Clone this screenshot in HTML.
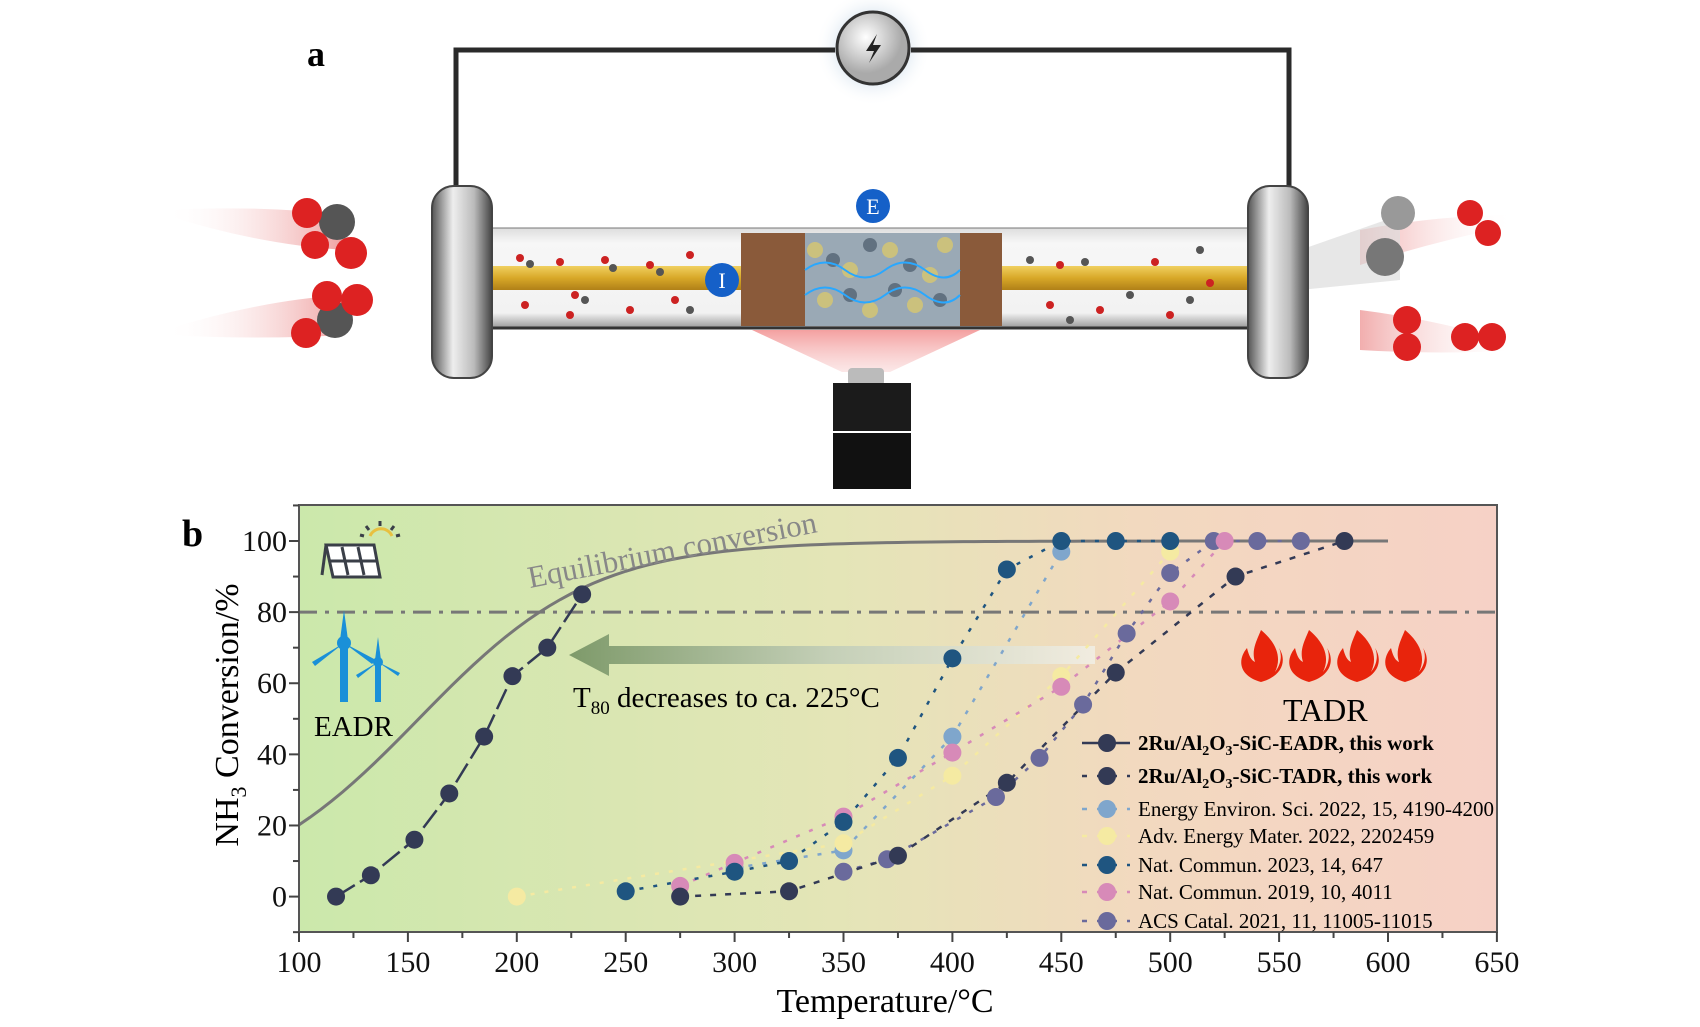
<!DOCTYPE html>
<html><head><meta charset="utf-8">
<style>
html,body{margin:0;padding:0;background:#fff;}
svg{display:block;font-family:"Liberation Serif",serif;}
</style></head>
<body>
<svg id="s" width="1700" height="1027" viewBox="0 0 1700 1027" xmlns="http://www.w3.org/2000/svg">
<defs>
<linearGradient id="bg" x1="0" x2="1" y1="0" y2="0">
<stop offset="0" stop-color="#cbe8ab"/>
<stop offset="0.45" stop-color="#e4e5b7"/>
<stop offset="0.7" stop-color="#f2d9bf"/>
<stop offset="1" stop-color="#f6d1c6"/>
</linearGradient>
<linearGradient id="arr" x1="0" x2="1">
<stop offset="0" stop-color="#7e9a6a"/>
<stop offset="0.5" stop-color="#c5d0b8"/>
<stop offset="1" stop-color="#f1ece0"/>
</linearGradient>
<linearGradient id="fl" x1="0" x2="1">
<stop offset="0" stop-color="#555"/><stop offset="0.35" stop-color="#eee"/><stop offset="0.7" stop-color="#bbb"/><stop offset="1" stop-color="#444"/>
</linearGradient>
<linearGradient id="tube" x1="0" y1="0" x2="0" y2="1">
<stop offset="0" stop-color="#ddd"/><stop offset="0.15" stop-color="#f7f7f7"/><stop offset="0.85" stop-color="#f2f2f2"/><stop offset="1" stop-color="#999"/>
</linearGradient>
<linearGradient id="rod" x1="0" y1="0" x2="0" y2="1">
<stop offset="0" stop-color="#f0d060"/><stop offset="0.5" stop-color="#d8a828"/><stop offset="1" stop-color="#b08018"/>
</linearGradient>
<linearGradient id="cone" x1="0" y1="0" x2="0" y2="1">
<stop offset="0" stop-color="#f4a0a0"/><stop offset="1" stop-color="#f8d0d0" stop-opacity="0.5"/>
</linearGradient>
<linearGradient id="trailL" x1="0" x2="1"><stop offset="0" stop-color="#fff" stop-opacity="0"/><stop offset="1" stop-color="#e87878"/></linearGradient>
<linearGradient id="trailR" x1="1" x2="0"><stop offset="0" stop-color="#fff" stop-opacity="0"/><stop offset="1" stop-color="#e87878"/></linearGradient>
<radialGradient id="glow"><stop offset="0.55" stop-color="#dfe9f2"/><stop offset="1" stop-color="#fff" stop-opacity="0"/></radialGradient>
<radialGradient id="bat" cx="0.4" cy="0.35"><stop offset="0" stop-color="#fff"/><stop offset="1" stop-color="#aaa"/></radialGradient>
</defs>

<!-- ===== Panel a ===== -->
<text x="307" y="66" font-size="36" font-weight="bold">a</text>
<circle cx="873" cy="48" r="58" fill="url(#glow)"/>
<path d="M456 192 V50 H835 M911 50 H1289 V192" fill="none" stroke="#2a2a2a" stroke-width="5"/>
<circle cx="873" cy="48" r="36" fill="url(#bat)" stroke="#333" stroke-width="3"/>
<path d="M877 34 L866 51 H874 L869 63 L881 45 H873 Z" fill="#222"/>
<path d="M165 210 Q260 205 345 215 L345 250 Q260 245 165 215 Z" fill="url(#trailL)" opacity="0.7"/>
<path d="M165 330 Q260 300 345 295 L345 335 Q260 340 165 335 Z" fill="url(#trailL)" opacity="0.7"/>
<path d="M1515 215 Q1440 215 1360 230 L1360 265 Q1440 240 1515 225 Z" fill="url(#trailR)" opacity="0.6"/>
<path d="M1520 345 Q1440 320 1360 310 L1360 350 Q1440 355 1520 350 Z" fill="url(#trailR)" opacity="0.6"/>
<path d="M1300 250 L1400 215 L1400 280 L1300 290 Z" fill="#ddd" opacity="0.7"/>
<g>
<circle cx="337" cy="222" r="18" fill="#555"/><circle cx="307" cy="213" r="15" fill="#d22"/><circle cx="315" cy="245" r="14" fill="#d22"/><circle cx="351" cy="253" r="16" fill="#d22"/>
<circle cx="335" cy="320" r="18" fill="#555"/><circle cx="327" cy="296" r="15" fill="#d22"/><circle cx="357" cy="300" r="16" fill="#d22"/><circle cx="306" cy="333" r="15" fill="#d22"/>
<circle cx="1398" cy="213" r="17" fill="#999"/><circle cx="1385" cy="257" r="19" fill="#777"/>
<circle cx="1470" cy="213" r="13" fill="#d22"/><circle cx="1488" cy="233" r="13" fill="#d22"/>
<circle cx="1407" cy="320" r="14" fill="#d22"/><circle cx="1407" cy="347" r="14" fill="#d22"/><circle cx="1465" cy="337" r="14" fill="#d22"/><circle cx="1492" cy="337" r="14" fill="#d22"/>
</g>
<path d="M752 330 L980 330 L890 372 L842 372 Z" fill="url(#cone)"/>
<rect x="848" y="368" width="36" height="18" rx="4" fill="#bbb"/>
<rect x="833" y="383" width="78" height="48" fill="#1b1b1b"/>
<rect x="833" y="433" width="78" height="56" fill="#111"/>
<rect x="490" y="228" width="760" height="100" fill="url(#tube)" stroke="#777" stroke-width="1"/>
<line x1="490" y1="328" x2="1250" y2="328" stroke="#333" stroke-width="3"/>
<rect x="490" y="266" width="760" height="24" fill="url(#rod)"/>
<rect x="741" y="233" width="64" height="93" fill="#8a5a3a"/>
<rect x="960" y="233" width="42" height="93" fill="#8a5a3a"/>
<rect x="805" y="233" width="155" height="93" fill="#9aa9b5"/>
<g fill="#d8c870" opacity="0.8">
<circle cx="815" cy="250" r="8"/><circle cx="850" cy="270" r="8"/><circle cx="890" cy="250" r="8"/><circle cx="930" cy="275" r="8"/><circle cx="825" cy="300" r="8"/><circle cx="870" cy="310" r="8"/><circle cx="915" cy="305" r="8"/><circle cx="945" cy="245" r="8"/>
</g>
<g fill="#4a5a6a" opacity="0.7">
<circle cx="833" cy="260" r="7"/><circle cx="870" cy="245" r="7"/><circle cx="910" cy="265" r="7"/><circle cx="850" cy="295" r="7"/><circle cx="895" cy="290" r="7"/><circle cx="940" cy="300" r="7"/>
</g>
<path d="M805 270 q20 -15 40 0 t40 0 t40 0 t35 0 M805 295 q20 -15 40 0 t40 0 t40 0 t35 0" fill="none" stroke="#29a8ff" stroke-width="2"/>
<g fill="#c22">
<circle cx="520" cy="258" r="4"/><circle cx="560" cy="262" r="4"/><circle cx="605" cy="260" r="4"/><circle cx="650" cy="265" r="4"/><circle cx="690" cy="255" r="4"/>
<circle cx="525" cy="305" r="4"/><circle cx="575" cy="295" r="4"/><circle cx="630" cy="310" r="4"/><circle cx="675" cy="300" r="4"/><circle cx="570" cy="315" r="4"/>
<circle cx="1060" cy="265" r="4"/><circle cx="1155" cy="262" r="4"/><circle cx="1050" cy="305" r="4"/><circle cx="1100" cy="310" r="4"/><circle cx="1170" cy="315" r="4"/><circle cx="1210" cy="283" r="4"/>
</g>
<g fill="#555">
<circle cx="530" cy="264" r="4"/><circle cx="613" cy="268" r="4"/><circle cx="660" cy="272" r="4"/><circle cx="585" cy="300" r="4"/><circle cx="690" cy="310" r="4"/>
<circle cx="1030" cy="260" r="4"/><circle cx="1085" cy="262" r="4"/><circle cx="1200" cy="250" r="4"/><circle cx="1130" cy="295" r="4"/><circle cx="1070" cy="320" r="4"/><circle cx="1190" cy="300" r="4"/>
</g>
<rect x="432" y="186" width="60" height="192" rx="22" fill="url(#fl)" stroke="#444" stroke-width="2"/>
<rect x="1248" y="186" width="60" height="192" rx="22" fill="url(#fl)" stroke="#444" stroke-width="2"/>
<circle cx="873" cy="206" r="17" fill="#1560c8"/><text x="873" y="214" font-size="22" fill="#fff" text-anchor="middle">E</text>
<circle cx="722" cy="280" r="17" fill="#1560c8"/><text x="722" y="288" font-size="22" fill="#fff" text-anchor="middle">I</text>

<!-- ===== Panel b ===== -->
<text x="182" y="546" font-size="38" font-weight="bold">b</text>
<rect x="299" y="505" width="1198" height="427" fill="url(#bg)"/>
<g id="plot"></g>
<rect x="299" y="505" width="1198" height="427" fill="none" stroke="#555" stroke-width="2"/>
<g id="axes" font-size="30" fill="#111"></g>
<text x="885" y="1012" font-size="34" text-anchor="middle">Temperature/°C</text>
<text transform="translate(238,715) rotate(-90)" font-size="34" text-anchor="middle">NH<tspan font-size="22" dy="8">3</tspan><tspan dy="-8"> Conversion/%</tspan></text>

<g stroke="#3a3f48" stroke-width="3" fill="none">
<path d="M370 536 a12 12 0 0 1 22 0" stroke="#e8c040"/>
<line x1="380" y1="521" x2="380" y2="526"/><line x1="366" y1="526" x2="369" y2="530"/><line x1="394" y1="526" x2="391" y2="530"/><line x1="360" y1="535" x2="364" y2="536"/><line x1="400" y1="535" x2="396" y2="536"/>
<path d="M326 545 L374 545 L380 577 L333 577 Z" fill="#fff"/>
<line x1="330" y1="561" x2="377" y2="561"/><line x1="342" y1="547" x2="348" y2="575"/><line x1="358" y1="547" x2="364" y2="575"/>
<path d="M326 545 L322 575"/>
</g>
<g fill="#1a90d8">
<rect x="340" y="643" width="8" height="59"/>
<path d="M344 610 L348 640 L340 640 Z"/>
<path d="M344 643 L312 662 L315 666 Z"/>
<path d="M344 643 L376 660 L372 664 Z"/>
<circle cx="344" cy="643" r="7"/>
<rect x="375" y="662" width="6" height="40"/>
<path d="M378 637 L381 660 L375 660 Z"/>
<path d="M378 662 L356 675 L358 678 Z"/>
<path d="M378 662 L400 673 L398 676 Z"/>
<circle cx="378" cy="662" r="5"/>
</g>
<text x="314" y="736" font-size="29">EADR</text>
<text x="1283" y="721" font-size="32">TADR</text>
<g fill="#e8240c" id="flames"></g>
<text transform="translate(530,588) rotate(-11)" font-size="31" fill="#888">Equilibrium conversion</text>
<text x="573" y="707" font-size="29">T<tspan font-size="19" dy="7">80</tspan><tspan dy="-7"> decreases to ca. 225°C</tspan></text>
<g id="legend" font-size="21"></g>
</svg>
<script>
const NS="http://www.w3.org/2000/svg";
const X=t=>299+(t-100)*2.178, Y=v=>896.6-3.556*v;
function el(p,tag,a,txt){const e=document.createElementNS(NS,tag);for(const k in a)e.setAttribute(k,a[k]);if(txt!==undefined)e.textContent=txt;p.appendChild(e);return e;}
const plot=document.getElementById('plot'), axes=document.getElementById('axes');
for(let t=100;t<=650;t+=25){const maj=t%50==0;el(axes,'line',{x1:X(t),x2:X(t),y1:932,y2:932+(maj?10:6),stroke:'#444','stroke-width':2});if(maj)el(axes,'text',{x:X(t),y:972,'text-anchor':'middle'},t);}
for(let v=-10;v<=110;v+=10){const maj=v%20==0&&v>=0&&v<=100;el(axes,'line',{x1:299,x2:299-(maj?10:6),y1:Y(v),y2:Y(v),stroke:'#444','stroke-width':2});if(maj)el(axes,'text',{x:287,y:Y(v)+10,'text-anchor':'end'},v);}
el(plot,'line',{x1:299,x2:1497,y1:Y(80),y2:Y(80),stroke:'#777','stroke-width':3,'stroke-dasharray':'18 8 4 8'});
el(plot,'path',{d:`M569 655 L609 634 L609 646 L1095 646 L1095 664 L609 664 L609 676 Z`,fill:'url(#arr)'});
let eq=[];for(let t=100;t<=600;t+=5){const v=100/(1+Math.exp(-(t-155)/40));eq.push(X(t)+','+Y(v));}
el(plot,'polyline',{points:eq.join(' '),fill:'none',stroke:'#777','stroke-width':3});
const series=[
 {c:'#7fa6cc',d:[[300,8],[350,13],[400,45],[450,97]],dash:'4 10'},
 {c:'#f5eaa2',d:[[200,0],[350,15],[400,34],[450,62],[500,97]],dash:'4 10'},
 {c:'#6a6a9c',d:[[350,7],[370,10.5],[420,28],[440,39],[460,54],[480,74],[500,91],[520,100],[540,100],[560,100]],dash:'4 10'},
 {c:'#d78ab8',d:[[275,3],[300,9.5],[350,22.5],[400,40.5],[450,59],[500,83],[525,100]],dash:'4 10'},
 {c:'#1f5580',d:[[250,1.5],[300,7],[325,10],[350,21],[375,39],[400,67],[425,92],[450,100],[475,100],[500,100]],dash:'4 10'},
 {c:'#333a55',d:[[275,0],[325,1.5],[375,11.5],[425,32],[475,63],[530,90],[580,100]],dash:'6 9'},
 {c:'#333a55',d:[[117,0],[133,6],[153,16],[169,29],[185,45],[198,62],[214,70],[230,85]],dash:'22 6'}
];
for(const s of series){el(plot,'polyline',{points:s.d.map(p=>X(p[0])+','+Y(p[1])).join(' '),fill:'none',stroke:s.c,'stroke-width':2.5,'stroke-dasharray':s.dash});}
for(const s of series)for(const p of s.d)el(plot,'circle',{cx:X(p[0]),cy:Y(p[1]),r:9,fill:s.c});
const lg=document.getElementById('legend');
const L=[['#333a55','',1,'solid'],['#333a55','',1],['#7fa6cc','Energy Environ. Sci. 2022, 15, 4190-4200'],['#f5eaa2','Adv. Energy Mater. 2022, 2202459'],['#1f5580','Nat. Commun. 2023, 14, 647'],['#d78ab8','Nat. Commun. 2019, 10, 4011'],['#6a6a9c','ACS Catal. 2021, 11, 11005-11015']];
const ly=[743,776,809,836,865,892,921];
L.forEach((r,i)=>{const y=ly[i];
 el(lg,'line',{x1:1082,x2:1130,y1:y,y2:y,stroke:r[0],'stroke-width':2.5,'stroke-dasharray':r[3]?'':'5 10'});
 el(lg,'circle',{cx:1107,cy:y,r:9,fill:r[0]});
 const t=el(lg,'text',{x:1138,y:y+7,'font-weight':r[2]?'bold':'normal'});
 if(i<2){t.innerHTML='2Ru/Al<tspan font-size="14" dy="5">2</tspan><tspan dy="-5">O</tspan><tspan font-size="14" dy="5">3</tspan><tspan dy="-5">-SiC-'+(i?'TADR':'EADR')+', this work</tspan>';}
 else t.textContent=r[1];
});
const fg=document.getElementById('flames');
[1261,1309,1357,1405].forEach(x=>{el(fg,'path',{d:`M${x} 630 C${x+18} 645 ${x+20} 660 ${x+14} 672 C${x+22} 662 ${x+20} 652 ${x+18} 648 C${x+26} 660 ${x+22} 676 ${x} 682 C${x-22} 676 ${x-24} 660 ${x-14} 648 C${x-12} 656 ${x-10} 660 ${x-6} 662 C${x-10} 650 ${x-4} 640 ${x} 630 Z`});});
</script>
</body></html>
